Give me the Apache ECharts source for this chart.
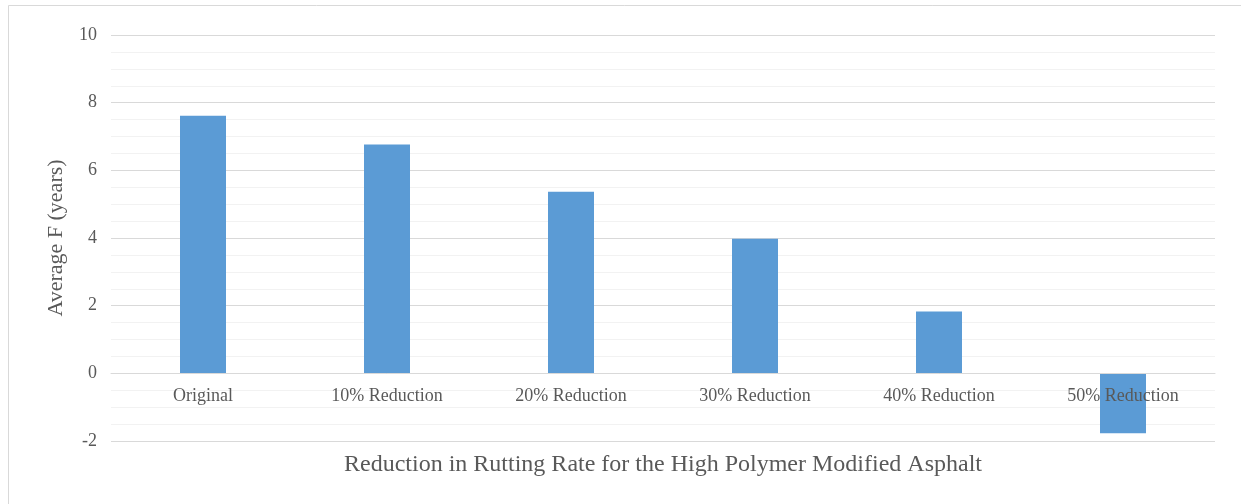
<!DOCTYPE html>
<html>
<head>
<meta charset="utf-8">
<script src="https://cdn.jsdelivr.net/npm/echarts@6/dist/echarts.min.js"></script>
<style>
  html, body { margin: 0; padding: 0; background: #fff; }
  #main { width: 1241px; height: 504px; }
</style>
</head>
<body>
<div id="main"></div>
<script>
// data
var categories = ['Original', '10% Reduction', '20% Reduction', '30% Reduction', '40% Reduction', '50% Reduction'];
var avgF = [7.61, 6.76, 5.37, 3.98, 1.83, -1.77];
var yTicks = [-2, 0, 2, 4, 6, 8, 10];

var chart = echarts.init(document.getElementById('main'));

var textColor = '#595959';
var fontFam = '"Liberation Serif", "Times New Roman", serif';

// grid box
var gridTop = 35, gridBottom = 63, chartH = 504;
var plotH = chartH - gridTop - gridBottom;
var yMin = yTicks[0], yMax = yTicks[yTicks.length - 1];
// move the category axis up onto the zero line (like Excel does)
var zeroOffset = -plotH * (0 - yMin) / (yMax - yMin);

var option = {
  backgroundColor: '#fff',
  animation: false,
  textStyle: { fontFamily: fontFam },
  graphic: [
    { type: 'line', shape: { x1: 8.5, y1: 5.5, x2: 1241, y2: 5.5 }, style: { stroke: '#d9d9d9', lineWidth: 1 } },
    { type: 'line', shape: { x1: 8.5, y1: 5.5, x2: 8.5, y2: 504 }, style: { stroke: '#d9d9d9', lineWidth: 1 } }
  ],
  grid: { left: 111, right: 26, top: gridTop, bottom: gridBottom, outerBoundsMode: 'none', containLabel: false },
  xAxis: {
    type: 'category',
    data: categories,
    z: 3,
    offset: zeroOffset,
    axisLine: { onZero: false, lineStyle: { color: '#d9d9d9', width: 1 } },
    axisTick: { show: false },
    axisLabel: { color: textColor, fontSize: 18, margin: 14, fontFamily: fontFam },
    name: 'Reduction in Rutting Rate for the High Polymer Modified Asphalt',
    nameLocation: 'middle',
    nameGap: 79,
    nameTextStyle: { color: textColor, fontSize: 24, fontFamily: fontFam }
  },
  yAxis: {
    type: 'value',
    min: yMin,
    max: yMax,
    interval: 2,
    axisLine: { show: false },
    axisTick: { show: false },
    axisLabel: { color: textColor, fontSize: 18, margin: 14, fontFamily: fontFam },
    splitLine: { lineStyle: { color: '#d9d9d9', width: 1 } },
    minorTick: { show: false, splitNumber: 4 },
    minorSplitLine: { show: true, lineStyle: { color: '#f2f2f2', width: 1 } },
    name: 'Average F (years)',
    nameLocation: 'middle',
    nameGap: 44,
    nameTextStyle: { color: textColor, fontSize: 22, fontFamily: fontFam }
  },
  series: [
    {
      name: 'Average F',
      type: 'bar',
      data: avgF,
      barWidth: '25%',
      itemStyle: { color: '#5b9bd5' }
    }
  ]
};

chart.setOption(option);
</script>
</body>
</html>
